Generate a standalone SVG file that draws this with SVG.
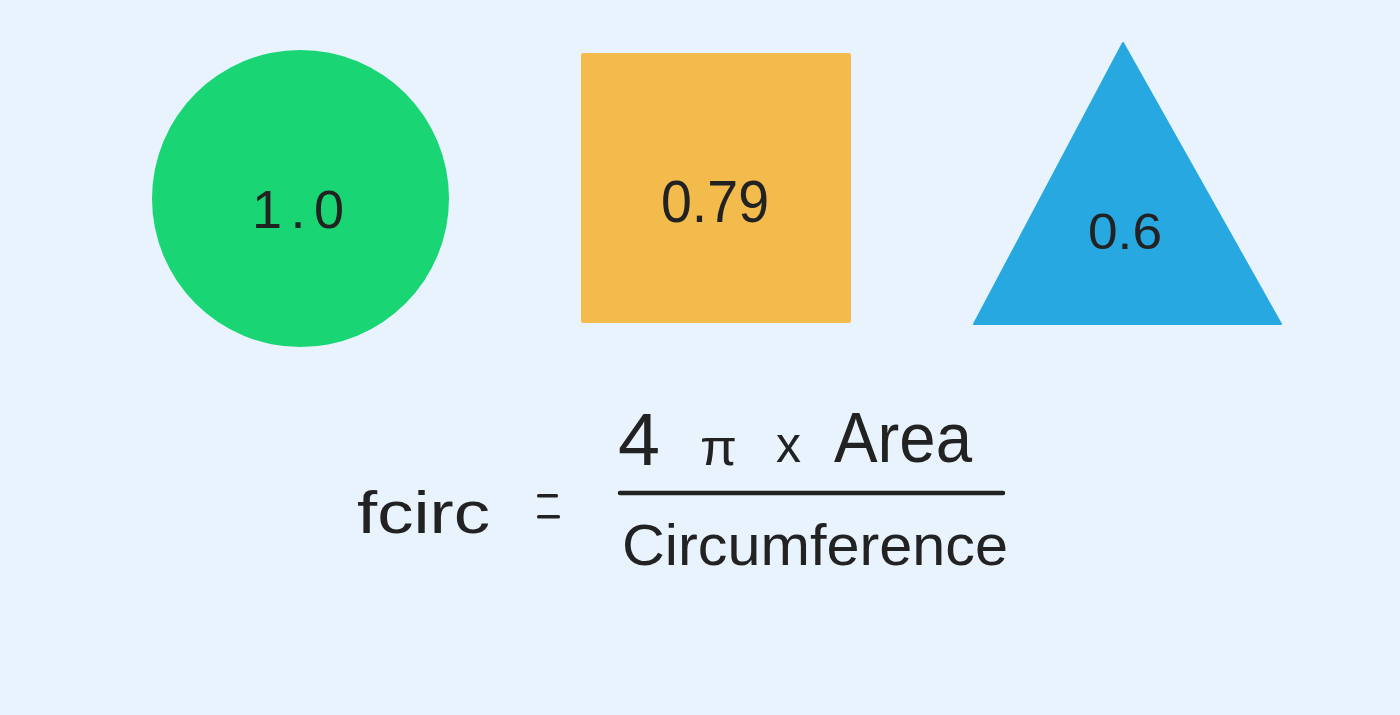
<svg xmlns="http://www.w3.org/2000/svg" width="1400" height="715" viewBox="0 0 1400 715">
<style>
.t{font-family:"Liberation Sans","DejaVu Sans",sans-serif;fill:#222222;}
</style>
<rect x="0" y="0" width="1400" height="715" fill="#E8F3FD"/>
<g id="circle">
<circle cx="300.5" cy="198.5" r="148.5" fill="#19D573"/>
<text class="t" x="298" y="228" font-size="54" text-anchor="middle" textLength="92" lengthAdjust="spacing">1.0</text>
</g>
<g id="square">
<rect x="581" y="53" width="270" height="270" rx="2" fill="#F3BB4B"/>
<text class="t" x="715" y="222" font-size="60" text-anchor="middle" textLength="108" lengthAdjust="spacingAndGlyphs">0.79</text>
</g>
<g id="triangle">
<polygon points="1123,43 974,324 1281,324" fill="#27A8E0" stroke="#27A8E0" stroke-width="2" stroke-linejoin="round"/>
<text class="t" x="1125" y="249" font-size="50" text-anchor="middle" textLength="74" lengthAdjust="spacingAndGlyphs">0.6</text>
</g>
<g id="formula">
<text class="t" x="357" y="533" font-size="60" textLength="133" lengthAdjust="spacingAndGlyphs">fcirc</text>
<rect x="537" y="494" width="21" height="3.5" rx="1.5" fill="#222222"/>
<rect x="537" y="515" width="23" height="3.5" rx="1.5" fill="#222222"/>
<text class="t" y="465" font-size="74"><tspan x="618" textLength="42" lengthAdjust="spacingAndGlyphs">4</tspan></text>
<text class="t" x="700" y="465" font-size="52" textLength="37" lengthAdjust="spacingAndGlyphs">π</text>
<text class="t" x="776" y="462" font-size="52" textLength="25" lengthAdjust="spacingAndGlyphs">x</text>
<text class="t" x="834" y="462" font-size="70" textLength="138" lengthAdjust="spacingAndGlyphs">Area</text>
<line x1="620" y1="493" x2="1003" y2="493" stroke="#222222" stroke-width="4.5" stroke-linecap="round"/>
<text class="t" x="622" y="565" font-size="58" textLength="386" lengthAdjust="spacingAndGlyphs">Circumference</text>
</g>
</svg>
